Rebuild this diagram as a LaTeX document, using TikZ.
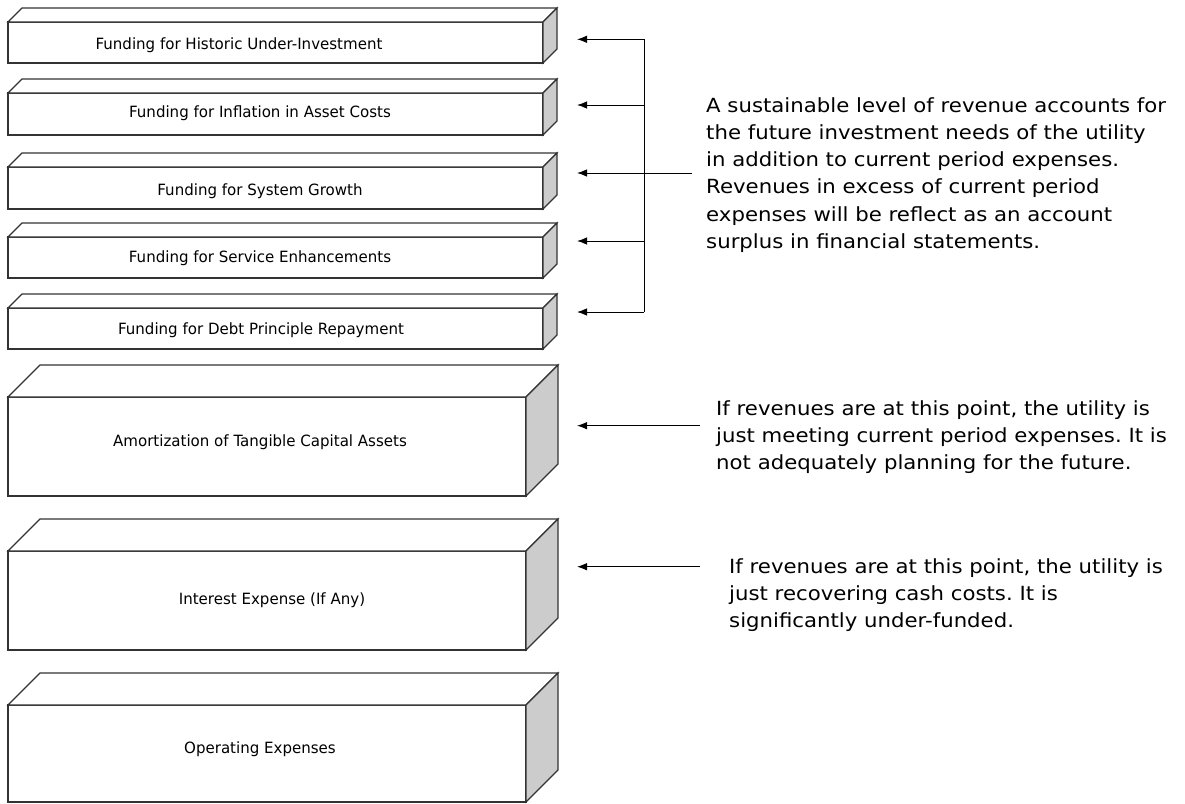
\documentclass[tikz,border=0pt]{standalone}
\usepackage{fontspec}
\setmainfont{DejaVu Sans}
\newfontfamily\boxfont[FakeStretch=0.97]{DejaVu Sans}
\newfontfamily\notefont[FakeStretch=1.09]{DejaVu Sans}
\usetikzlibrary{arrows.meta}
\frenchspacing
\newcommand\cuboid[6]{%
  \node[frontbox, minimum width=#4pt, minimum height=#5pt] (#1) at (#2,#3) {};
  \draw[face] (#1.north west) -- ++(#6,-#6) -- ++(#4,0) -- (#1.north east) -- cycle;
  \draw[sideface] (#1.north east) -- ++(#6,-#6) -- ++(0,#5) -- (#1.south east) -- cycle;
}
\begin{document}
\begin{tikzpicture}[x=1pt,y=-1pt,
  face/.style={draw=black!80, line width=1.1pt, fill=white, line join=miter},
  sideface/.style={draw=black!80, line width=1.1pt, fill=black!20},
  frontbox/.style={face, anchor=north west, inner sep=0pt, outer sep=0pt},
  lbl/.style={font=\boxfont\fontsize{15.5}{18}\selectfont, anchor=base, inner sep=0pt},
  note/.style={font=\notefont\fontsize{19.5}{27.2}\selectfont, align=left, anchor=north west, inner sep=0pt},
  bus/.style={line width=1pt},
  arr/.style={line width=1pt, -{Latex[length=10pt,width=7.5pt]}}
]
\useasboundingbox (0,0) rectangle (1185,803);

% boxes
\cuboid{b1}{8}{22}{535}{41}{14}
\cuboid{b2}{8}{93}{535}{42}{14}
\cuboid{b3}{8}{167}{535}{42}{14}
\cuboid{b4}{8}{237}{535}{41}{14}
\cuboid{b5}{8}{308}{535}{41}{14}
\cuboid{b6}{8}{397}{518}{99}{32}
\cuboid{b7}{8}{551}{518}{99}{32}
\cuboid{b8}{8}{705}{518}{97}{32}

% box labels
\node[lbl] (l1) at (239,49) {Funding for Historic Under-Investment};
\node[lbl] (l2) at (260,117.3) {Funding for Inflation in Asset Costs};
\node[lbl] (l3) at (260,195) {Funding for System Growth};
\node[lbl] (l4) at (260,262.7) {Funding for Service Enhancements};
\node[lbl] (l5) at (261,334) {Funding for Debt Principle Repayment};
\node[lbl] (l6) at (260,446) {Amortization of Tangible Capital Assets};
\node[lbl] (l7) at (272,604) {Interest Expense (If Any)};
\node[lbl] (l8) at (260,753) {Operating Expenses};

% arrow tips and bus
\coordinate (t1) at (577,39.3);
\coordinate (t2) at (577,105);
\coordinate (t3) at (577,173);
\coordinate (t4) at (577,241);
\coordinate (t5) at (577,312);
\coordinate (bt) at (644,39.3);
\coordinate (bb) at (644,312);
\coordinate (m3) at (692,173);
\draw[bus] (bt) -- (bb);
\draw[arr] (bt) -- (t1);
\draw[arr] (t2 -| bt) -- (t2);
\draw[arr] (m3) -- (t3);
\draw[arr] (t4 -| bt) -- (t4);
\draw[arr] (bb) -- (t5);

\coordinate (t6) at (577,425.7);
\coordinate (a6) at (700,425.7);
\coordinate (t7) at (577,566.7);
\coordinate (a7) at (700,566.7);
\draw[arr] (a6) -- (t6);
\draw[arr] (a7) -- (t7);

% notes
\node[note] (n1) at (706,97.2) {A sustainable level of revenue accounts for\\
the future investment needs of the utility\\
in addition to current period expenses.\\
Revenues in excess of current period\\
expenses will be reflect as an account\\
surplus in financial statements.};
\node[note] (n2) at (716,400.2) {If revenues are at this point, the utility is\\
just meeting current period expenses. It is\\
not adequately planning for the future.};
\node[note] (n3) at (729,558.2) {If revenues are at this point, the utility is\\
just recovering cash costs. It is\\
significantly under-funded.};
\end{tikzpicture}
\end{document}
